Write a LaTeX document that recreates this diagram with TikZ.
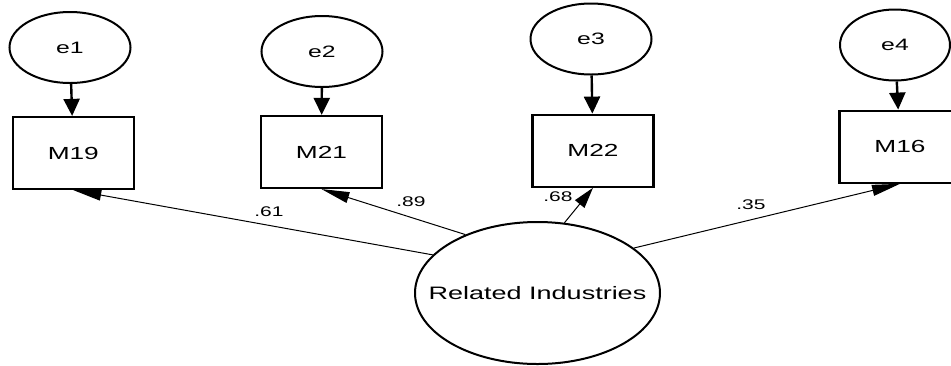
\documentclass[tikz,border=0pt]{standalone}
\usepackage{fontspec}
\setmainfont{Liberation Sans}[FakeStretch=1.5]
\usetikzlibrary{arrows.meta,shapes.geometric}
\begin{document}
\begin{tikzpicture}[x=1pt,y=-1pt,
  errvar/.style={ellipse, draw, line width=2pt, inner sep=0pt,
    minimum width=121pt, minimum height=71pt, font=\fontsize{16.5}{18}\selectfont},
  observed/.style={rectangle, draw, line width=2.2pt, inner sep=0pt,
    minimum width=121pt, minimum height=72pt, font=\fontsize{17.5}{20}\selectfont},
  factor/.style={ellipse, draw, line width=2pt, inner sep=0pt,
    minimum width=245pt, minimum height=142pt, font=\fontsize{18}{20}\selectfont},
  errpath/.style={line width=2.4pt, -{Triangle[length=17pt,width=16pt]}},
  loading/.style={line width=1pt, -{Triangle[length=28pt,width=11pt]}},
  coef/.style={font=\fontsize{14}{16}\selectfont, inner sep=0pt}
]
\useasboundingbox (0,0) rectangle (951,365);
\clip (0,0) rectangle (951,365);

% error terms
\node[errvar] (e1) at (70,47.5) {e1};
\node[errvar] (e2) at (322,51.5) {e2};
\node[errvar] (e3) at (591,39) {e3};
\node[errvar, minimum width=110pt] (e4) at (895,45) {e4};

% observed indicators
\node[observed] (m19) at (73.3,153) {M19};
\node[observed] (m21) at (321.5,152) {M21};
\node[observed] (m22) at (593,150.7) {M22};
\node[observed] (m16) at (900,146.7) {M16};

% latent factor
\node[factor] (ri) at (537.5,293) {\makebox[0pt]{Related Industries}};

% error paths
\draw[errpath] (e1) -- (m19);
\draw[errpath] (e2) -- (m21);
\draw[errpath] (e3) -- (m22);
\draw[errpath] (e4) -- (m16);

% factor loadings
\draw[loading] (ri.160) -- (m19.south);
\draw[loading] (ri.141) -- (m21.south);
\draw[loading, -{Triangle[length=21pt,width=12pt]}] (ri.69) -- (m22.south);
\draw[loading] (ri.25) -- (m16.south);

% loading estimates
\node[coef] (c61) at (269,212) {.61};
\node[coef] (c89) at (411,202) {.89};
\node[coef] (c68) at (558,197) {.68};
\node[coef] (c35) at (751,205) {.35};
\end{tikzpicture}
\end{document}
